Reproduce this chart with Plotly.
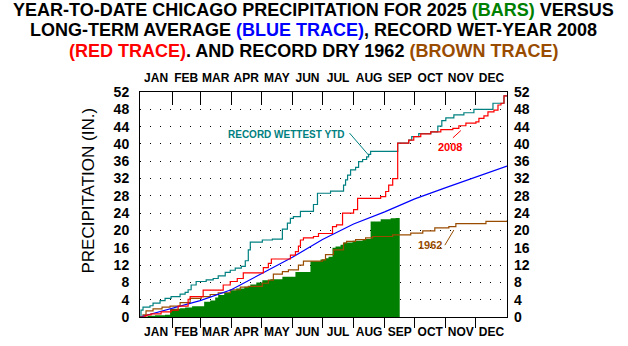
import plotly.graph_objects as go

# ---- calendar / axes ----
months = ["JAN", "FEB", "MAR", "APR", "MAY", "JUN", "JUL", "AUG", "SEP", "OCT", "NOV", "DEC"]
month_start = [1, 32, 60, 91, 121, 152, 182, 213, 244, 274, 305, 335]   # day of year
year_end = 366
y_ticks = list(range(0, 53, 4))

# ---- 2025 year-to-date precipitation (inches), step breakpoints ----
day_2025 = [0, 3, 8, 15, 25, 30, 40, 45, 52, 64, 70, 75, 78, 84, 90, 96, 104, 110, 116,
            122, 130, 142, 155, 170, 180, 185, 188, 192, 195, 200, 203, 212, 222, 230,
            240, 250, 255, 259]
ytd_2025 = [0.0, 0.1, 0.3, 0.4, 0.5, 1.9, 2.0, 2.2, 2.5, 3.5, 3.8, 4.5, 5.1, 5.6, 6.2, 6.6,
            7.0, 7.5, 8.0, 8.5, 8.7, 9.3, 10.4, 12.9, 13.3, 13.6, 13.9, 16.0, 16.3, 16.7,
            17.2, 17.6, 18.0, 22.1, 22.6, 22.8, 22.9, 22.9]

# ---- long-term average ----
day_avg = [0, 31, 60, 91, 121, 152, 182, 213, 244, 274, 305, 335, 366]
ytd_avg = [0.0, 2.0, 3.8, 6.3, 9.9, 13.8, 17.9, 21.5, 24.3, 27.3, 29.9, 32.4, 34.9]

# ---- record wet year 2008 ----
day_2008 = [0, 5, 7, 11, 21, 31, 38, 48, 50, 63, 83, 90, 97, 103, 123, 128, 131, 150, 155,
            158, 160, 163, 173, 178, 192, 196, 202, 213, 217, 240, 245, 248, 252, 257, 268,
            273, 280, 290, 300, 312, 318, 325, 335, 338, 343, 347, 353, 357, 360, 363, 366]
ytd_2008 = [0.0, 0.3, 0.5, 0.7, 1.2, 1.6, 2.5, 4.1, 4.7, 6.2, 7.4, 8.2, 8.9, 10.2, 11.4,
            12.4, 13.4, 14.3, 15.1, 16.4, 17.8, 18.3, 18.6, 19.3, 20.9, 21.3, 24.0, 24.8,
            27.4, 27.8, 29.0, 30.5, 32.0, 40.2, 40.9, 41.7, 42.3, 42.8, 43.3, 43.6, 44.2,
            44.8, 45.1, 45.9, 46.5, 47.4, 47.8, 49.0, 49.4, 51.1, 51.1]

# ---- record wettest year-to-date ----
day_rec = [0, 1, 3, 10, 13, 20, 25, 31, 40, 45, 48, 51, 56, 66, 73, 78, 85, 90, 95, 101,
           105, 108, 110, 122, 132, 142, 147, 150, 153, 160, 173, 177, 190, 203, 205, 207,
           210, 215, 218, 222, 226, 228, 230, 257, 268, 271, 278, 290, 297, 301, 305, 313,
           323, 333, 352, 363, 366]
ytd_rec = [0.0, 1.6, 2.3, 2.6, 3.2, 3.8, 4.3, 4.7, 5.3, 5.7, 6.3, 7.4, 8.2, 8.6, 8.9, 9.5,
           10.3, 10.8, 11.3, 11.7, 13.0, 15.5, 17.3, 17.8, 18.0, 20.3, 21.7, 22.8, 23.2,
           24.4, 26.0, 28.6, 29.1, 30.5, 31.7, 32.8, 34.0, 34.6, 35.9, 36.4, 37.0, 37.6,
           38.3, 40.2, 40.9, 41.7, 42.4, 42.8, 44.1, 45.4, 46.0, 46.7, 47.2, 48.0, 49.4,
           51.1, 51.1]

# ---- record dry year 1962 ----
day_1962 = [0, 3, 6, 13, 22, 30, 40, 50, 61, 70, 78, 90, 100, 108, 122, 128, 133, 142, 148,
            158, 163, 182, 185, 193, 203, 206, 215, 225, 232, 252, 270, 282, 294, 308, 315,
            345, 366]
ytd_1962 = [0.0, 0.5, 1.4, 1.9, 2.3, 2.5, 3.3, 4.3, 4.7, 5.2, 5.6, 6.3, 6.9, 7.1, 7.8, 8.5,
            9.9, 10.5, 10.9, 12.0, 12.9, 13.2, 14.4, 15.5, 17.1, 17.5, 17.9, 18.3, 18.6,
            19.0, 19.4, 19.9, 20.6, 20.9, 21.6, 22.1, 22.3]

GREEN = "#008000"
BLUE = "#0000FF"
RED = "#FF0000"
TEAL = "#008080"
BROWN = "#994C00"
FONT = "Liberation Sans, Arial, sans-serif"

fig = go.Figure()

fig.add_trace(go.Scatter(x=day_2025, y=ytd_2025, mode="lines",
                         line=dict(width=0, shape="hv", color=GREEN),
                         fill="tozeroy", fillcolor=GREEN, hoverinfo="skip"))
fig.add_trace(go.Scatter(x=day_1962, y=ytd_1962, mode="lines",
                         line=dict(width=1.2, shape="hv", color=BROWN), hoverinfo="skip"))
fig.add_trace(go.Scatter(x=day_avg, y=ytd_avg, mode="lines",
                         line=dict(width=1.2, color=BLUE), hoverinfo="skip"))
fig.add_trace(go.Scatter(x=day_rec, y=ytd_rec, mode="lines",
                         line=dict(width=1.2, shape="hv", color=TEAL), hoverinfo="skip"))
fig.add_trace(go.Scatter(x=day_2008, y=ytd_2008, mode="lines", xaxis="x2", yaxis="y2",
                         line=dict(width=1.2, shape="hv", color=RED), hoverinfo="skip"))

# month labels centred in each month, tick marks on the month boundaries
bounds = [0] + month_start[1:] + [year_end]
month_mid = [(bounds[i] + bounds[i + 1]) / 2 for i in range(12)]

month_font = dict(family=FONT, size=12, color="black", weight="bold")
num_font = dict(family=FONT, size=14, color="black", weight="bold")

fig.update_layout(
    width=628, height=346,
    margin=dict(l=140, r=121, t=92, b=29),
    paper_bgcolor="white", plot_bgcolor="white",
    showlegend=False,
    xaxis=dict(range=[0, year_end], tickmode="array", tickvals=month_mid, ticktext=months,
               ticks="", showline=True, mirror=True, linecolor="black", linewidth=1,
               showgrid=False, zeroline=False, tickfont=month_font, ticklabelstandoff=4,
               automargin=False,
               minor=dict(tickmode="array", tickvals=month_start[1:], ticks="outside",
                          ticklen=10, tickwidth=1, tickcolor="black", showgrid=False)),
    xaxis2=dict(range=[0, year_end], overlaying="x", side="top", tickmode="array",
                tickvals=month_mid, ticktext=months, ticks="", showline=False,
                showgrid=False, zeroline=False, tickfont=month_font, ticklabelstandoff=7,
                automargin=False,
                minor=dict(tickmode="array", tickvals=month_start[1:], ticks="inside",
                           ticklen=13, tickwidth=1, tickcolor="black", showgrid=False)),
    yaxis=dict(range=[0, 52], tickmode="array", tickvals=y_ticks, ticks="",
               showline=True, mirror=True, linecolor="black", linewidth=1,
               showgrid=True, gridcolor="black", gridwidth=1, griddash="1px,9px",
               zeroline=False, tickfont=num_font, ticklabelstandoff=7, automargin=False),
    yaxis2=dict(range=[0, 52], overlaying="y", side="right", tickmode="array",
                tickvals=y_ticks, ticks="", showline=False, showgrid=False,
                zeroline=False, tickfont=num_font, ticklabelstandoff=6, automargin=False),
)

title_font = dict(family=FONT, size=18, color="black", weight="bold")
title_lines = [
    'YEAR-TO-DATE CHICAGO PRECIPITATION FOR 2025 <span style="color:#008000">(BARS)</span> VERSUS',
    'LONG-TERM AVERAGE <span style="color:#0000FF">(BLUE TRACE)</span>, RECORD WET-YEAR 2008',
    '<span style="color:#FF0000">(RED TRACE)</span>. AND RECORD DRY 1962 <span style="color:#994C00">(BROWN TRACE)</span>',
]
# three separately placed title lines, centred over the canvas
title_y_px = [9.8, 30.2, 50.6]
for txt, ypx in zip(title_lines, title_y_px):
    fig.add_annotation(text=txt, xref="paper", yref="paper", x=0.474, y=(317 - ypx) / 225,
                       xanchor="center", yanchor="middle", showarrow=False, font=title_font)

fig.add_annotation(text="PRECIPITATION (IN.)", xref="paper", yref="paper", x=-0.139, y=0.562,
                   textangle=-90, xanchor="center", yanchor="middle", showarrow=False,
                   font=dict(family=FONT, size=17, color="black"))

# trace labels with leader lines
fig.add_annotation(text="RECORD WETTEST YTD", x=205, y=42.1, xanchor="right", yanchor="middle",
                   showarrow=False, font=dict(family=FONT, size=10, color=TEAL, weight="bold"))
fig.add_shape(type="line", x0=209, y0=42.5, x1=228, y1=37.4, line=dict(color=TEAL, width=1))

fig.add_annotation(text="2008", x=308.7, y=39.3, xanchor="center", yanchor="middle",
                   showarrow=False, font=dict(family=FONT, size=11, color=RED, weight="bold"))
fig.add_shape(type="line", x0=312, y0=41.4, x1=320, y1=43.1, line=dict(color=RED, width=1))

fig.add_annotation(text="1962", x=289.7, y=16.6, xanchor="center", yanchor="middle",
                   showarrow=False, font=dict(family=FONT, size=11, color=BROWN, weight="bold"))
fig.add_shape(type="line", x0=304, y0=16.6, x1=313, y1=20.1, line=dict(color=BROWN, width=1))

fig.write_html("out.html")
